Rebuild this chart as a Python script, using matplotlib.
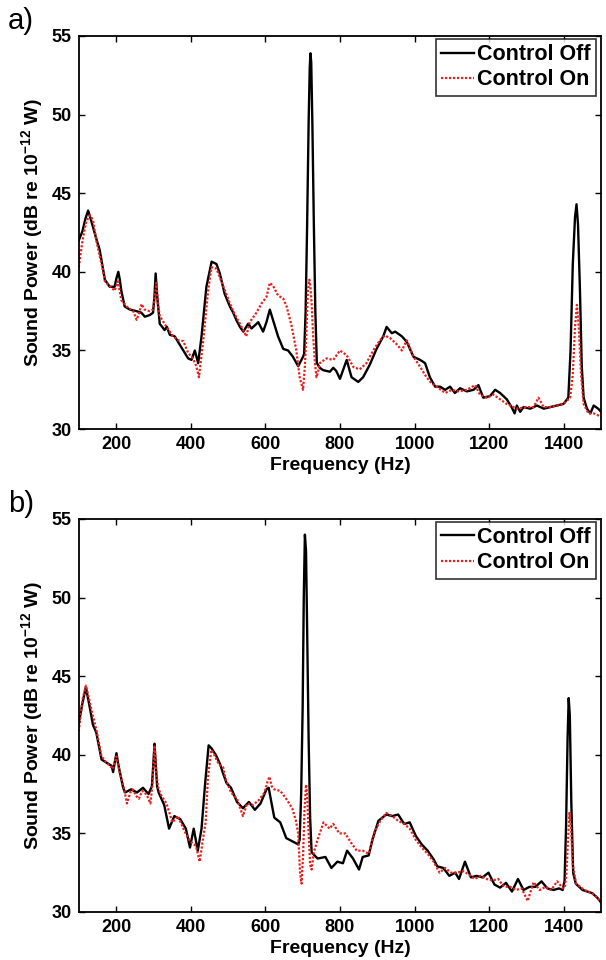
import numpy as np
import matplotlib
matplotlib.use("Agg")
import matplotlib.pyplot as plt

plt.rcParams['font.family'] = ['Liberation Sans', 'DejaVu Sans']
plt.rcParams['font.weight'] = 'bold'
plt.rcParams['mathtext.fontset'] = 'custom'
plt.rcParams['mathtext.rm'] = 'Liberation Sans:bold'
plt.rcParams['mathtext.bf'] = 'Liberation Sans:bold'
plt.rcParams['mathtext.default'] = 'bf'

# panel a) control off
fa_off = [100, 110, 118, 125, 134, 147, 156, 170, 183, 196, 201, 206, 210, 214, 223, 237, 255, 268, 277,
          290, 299, 303, 306, 310, 317, 330, 336, 344, 357, 380, 393, 402, 411, 420, 429, 442, 456, 469,
          478, 491, 505, 514, 523, 532, 541, 554, 563, 581, 594, 603, 612, 621, 634, 648, 661, 674, 688,
          701, 704, 708, 712, 716, 719, 721, 723, 726, 730, 734, 738, 746, 755, 764, 773, 782, 790, 800,
          809, 818, 831, 849, 862, 880, 898, 916, 925, 939, 948, 966, 979, 997, 1015, 1028, 1041, 1055,
          1068, 1082, 1095, 1108, 1122, 1140, 1158, 1171, 1184, 1202, 1216, 1229, 1247, 1260, 1268, 1274,
          1283, 1292, 1310, 1328, 1346, 1363, 1381, 1399, 1412, 1418, 1424, 1430, 1434, 1438, 1443, 1448,
          1453, 1462, 1471, 1480, 1492, 1500]
pa_off = [42.0, 42.6, 43.4, 43.9, 43.2, 42.1, 41.4, 39.5, 39.05, 39.05, 39.6, 40.0, 39.5, 38.8, 37.8, 37.6,
          37.5, 37.4, 37.15, 37.25, 37.4, 38.5, 39.9, 38.5, 36.7, 36.3, 36.5, 36.0, 35.9, 35.0, 34.5, 34.4,
          35.0, 34.2, 35.9, 39.05, 40.65, 40.5, 39.9, 38.6, 37.8, 37.4, 36.9, 36.5, 36.2, 36.7, 36.4, 36.8,
          36.2, 36.8, 37.6, 36.9, 35.9, 35.1, 35.0, 34.6, 34.0, 34.6, 34.8, 37.5, 43.0, 49.5, 53.0, 53.9,
          53.3, 49.5, 43.0, 37.5, 34.2, 33.9, 33.75, 33.7, 33.65, 33.9, 33.7, 33.2, 33.8, 34.4, 33.3, 33.0,
          33.3, 34.1, 35.1, 35.9, 36.5, 36.1, 36.2, 35.9, 35.55, 34.6, 34.4, 34.2, 33.3, 32.7, 32.7, 32.5,
          32.7, 32.3, 32.6, 32.4, 32.5, 32.8, 32.0, 32.1, 32.5, 32.3, 31.9, 31.4, 31.0, 31.5, 31.1, 31.4,
          31.3, 31.5, 31.3, 31.4, 31.5, 31.6, 32.0, 35.0, 40.5, 43.5, 44.3, 43.0, 39.0, 34.0, 32.0, 31.3,
          31.0, 31.5, 31.3, 31.1]

# panel a) control on
fa_on = [100, 110, 120, 130, 138, 147, 156, 165, 170, 183, 196, 205, 214, 228, 246, 255, 262, 268, 277,
         290, 299, 304, 308, 312, 317, 335, 353, 366, 380, 393, 406, 415, 422, 433, 447, 456, 469, 487,
         505, 518, 532, 549, 558, 576, 590, 603, 612, 621, 634, 648, 657, 670, 683, 692, 701, 706, 710,
         714, 718, 721, 724, 728, 733, 737, 741, 746, 764, 782, 800, 818, 836, 853, 871, 889, 907, 920,
         934, 952, 966, 979, 997, 1015, 1032, 1046, 1059, 1082, 1100, 1117, 1140, 1162, 1175, 1193, 1211,
         1229, 1247, 1274, 1301, 1319, 1332, 1346, 1363, 1381, 1399, 1417, 1424, 1430, 1435, 1440, 1446,
         1453, 1466, 1480, 1489, 1500]
pa_on = [40.3, 42.0, 43.2, 43.6, 43.3, 42.0, 41.0, 40.1, 39.4, 39.1, 38.8, 39.4, 38.2, 37.8, 37.5, 36.95,
         37.4, 37.95, 37.6, 37.5, 37.6, 38.5, 39.3, 38.0, 37.2, 36.5, 35.9, 35.65, 35.6, 34.85, 34.5, 34.0,
         33.3, 35.5, 38.9, 40.3, 40.2, 39.1, 38.0, 37.3, 36.7, 35.9, 36.8, 37.4, 38.0, 38.4, 39.3, 39.1,
         38.5, 38.3, 37.8, 36.6, 35.0, 33.3, 32.5, 34.0, 36.1, 38.8, 39.5, 39.0, 38.0, 36.0, 34.2, 33.3,
         33.6, 34.2, 34.5, 34.4, 35.0, 34.7, 33.95, 33.8, 34.2, 35.0, 35.65, 35.95, 35.8, 35.4, 35.0, 35.65,
         34.6, 33.95, 33.3, 32.9, 32.7, 32.3, 32.5, 32.4, 32.5, 32.8, 32.2, 32.0, 32.2, 31.9, 31.6, 31.3,
         31.4, 31.4, 32.0, 31.4, 31.4, 31.5, 31.6, 32.0, 33.5, 36.5, 37.9, 36.5, 33.5, 31.6, 31.0, 31.0,
         30.9, 30.8]

# panel b) control off
fb_off = [100, 110, 119, 128, 138, 147, 161, 174, 188, 192, 197, 201, 205, 210, 219, 224, 240, 256, 272,
          287, 296, 300, 303, 306, 310, 314, 329, 342, 356, 372, 387, 398, 408, 419, 429, 438, 448, 456,
          467, 478, 487, 496, 508, 524, 540, 556, 572, 587, 603, 609, 616, 624, 640, 656, 672, 688, 692,
          696, 700, 703, 706, 709, 712, 716, 720, 724, 740, 761, 777, 793, 808, 819, 835, 851, 861, 877,
          887, 903, 924, 940, 956, 972, 987, 1003, 1019, 1035, 1051, 1061, 1077, 1093, 1109, 1119, 1135,
          1151, 1166, 1182, 1198, 1214, 1229, 1245, 1261, 1277, 1292, 1308, 1324, 1340, 1356, 1372, 1387,
          1397, 1402, 1406, 1410, 1413, 1416, 1420, 1425, 1432, 1450, 1476, 1490, 1500]
pb_off = [42.0, 43.3, 44.3, 43.2, 41.9, 41.4, 39.7, 39.5, 39.3, 38.9, 39.6, 40.1, 39.5, 38.9, 37.9, 37.6,
          37.8, 37.6, 37.9, 37.5, 38.0, 39.5, 40.7, 39.5, 38.0, 37.6, 36.8, 35.3, 36.1, 35.9, 35.3, 34.1,
          35.3, 33.9, 35.3, 38.0, 40.6, 40.4, 40.0, 39.45, 38.8, 38.2, 37.9, 37.0, 36.6, 37.0, 36.5, 36.9,
          37.8, 37.9, 37.0, 36.0, 35.7, 34.7, 34.5, 34.3, 34.6, 37.5, 43.0, 50.0, 54.0, 53.0, 48.0, 41.0,
          36.0, 33.8, 33.4, 33.5, 32.8, 33.2, 33.1, 33.9, 33.4, 32.7, 33.5, 33.6, 34.6, 35.8, 36.2, 36.1,
          36.2, 35.6, 35.7, 34.85, 34.3, 33.9, 33.35, 32.9, 32.8, 32.3, 32.5, 32.1, 33.2, 32.2, 32.3, 32.2,
          32.5, 31.75, 31.55, 31.85, 31.3, 32.1, 31.4, 31.6, 31.6, 31.95, 31.5, 31.4, 31.5, 31.4, 32.0,
          35.5, 41.0, 43.6, 42.5, 37.0, 32.5, 31.8, 31.4, 31.2, 30.9, 30.6]

# panel b) control on
fb_on = [100, 110, 119, 128, 134, 147, 161, 174, 183, 192, 201, 205, 210, 220, 229, 238, 245, 253, 261,
         270, 277, 285, 292, 297, 303, 307, 312, 319, 335, 351, 366, 382, 398, 414, 424, 432, 440, 446,
         455, 463, 475, 487, 493, 508, 524, 540, 551, 566, 582, 598, 606, 611, 617, 624, 640, 656, 672,
         682, 688, 693, 697, 701, 705, 709, 712, 716, 720, 724, 730, 740, 756, 772, 782, 798, 814, 830,
         845, 861, 877, 893, 908, 924, 940, 956, 972, 987, 1003, 1019, 1035, 1051, 1067, 1082, 1098, 1114,
         1130, 1145, 1161, 1177, 1193, 1208, 1224, 1240, 1256, 1272, 1287, 1303, 1319, 1335, 1351, 1366,
         1382, 1398, 1403, 1407, 1411, 1415, 1419, 1424, 1433, 1455, 1476, 1490, 1500]
pb_on = [41.5, 43.5, 44.4, 43.5, 42.85, 41.6, 39.9, 39.5, 39.3, 39.1, 39.9, 39.4, 38.85, 38.0, 36.9, 37.6,
         37.8, 37.4, 37.2, 37.7, 37.6, 37.3, 36.9, 38.0, 40.6, 39.0, 38.0, 37.5, 36.9, 35.7, 36.1, 35.2,
         34.5, 34.2, 33.2, 34.5, 35.7, 38.5, 40.3, 40.0, 39.4, 39.2, 38.5, 37.6, 37.2, 36.1, 36.9, 36.8,
         37.1, 37.6, 38.3, 38.6, 38.0, 37.8, 37.7, 37.2, 36.6, 35.8, 35.0, 32.5, 31.8, 33.5, 36.5, 38.1,
         37.5, 35.0, 33.0, 32.7, 33.8, 34.6, 35.7, 35.3, 35.6, 35.0, 35.0, 34.4, 33.9, 33.9, 33.7, 35.1,
         35.8, 36.3, 36.1, 35.8, 35.6, 35.3, 34.6, 34.1, 33.7, 33.2, 32.5, 32.8, 32.5, 32.5, 32.6, 32.4,
         32.1, 32.3, 32.1, 32.0, 32.1, 31.6, 31.6, 31.4, 31.5, 30.7, 31.9, 31.4, 31.6, 31.4, 31.95, 31.5,
         31.6, 32.5, 34.5, 36.3, 35.5, 33.0, 31.8, 31.4, 31.2, 30.9, 30.6]

xticks = [200, 400, 600, 800, 1000, 1200, 1400]
yticks = [30, 35, 40, 45, 50, 55]

fig = plt.figure(figsize=(6.06, 9.6), dpi=100)
ax_a = fig.add_axes([0.130, 0.553, 0.862, 0.4095])
ax_b = fig.add_axes([0.130, 0.050, 0.862, 0.4095])

panels = [(ax_a, fa_off, pa_off, fa_on, pa_on, 'a)', 0.978),
          (ax_b, fb_off, pb_off, fb_on, pb_on, 'b)', 0.475)]

for ax, f1, p1, f2, p2, lab, ty in panels:
    ax.plot(f1, p1, color='black', lw=1.7, label='Control Off')
    ax.plot(f2, p2, color='#e8201c', lw=1.6, ls=(0, (1, 0.8)), label='Control On')
    ax.set_xlim(100, 1500)
    ax.set_ylim(30, 55)
    ax.set_xticks(xticks)
    ax.set_yticks(yticks)
    ax.tick_params(direction='in', top=True, right=True, length=4, width=1,
                   labelsize=13, pad=5)
    for lbl in ax.get_xticklabels() + ax.get_yticklabels():
        lbl.set_fontweight('bold')
    for s in ax.spines.values():
        s.set_linewidth(1.3)
    ax.set_xlabel('Frequency (Hz)', fontsize=14, fontweight='bold', labelpad=3)
    ax.set_ylabel('Sound Power (dB re 10$^{-12}$ W)', fontsize=14, fontweight='bold', labelpad=5)
    leg = ax.legend(loc='upper right', bbox_to_anchor=(0.99, 0.993),
                    prop={'weight': 'bold', 'size': 15.5}, frameon=True, fancybox=False,
                    handlelength=1.5, handletextpad=0.15, borderpad=0.25, labelspacing=0.2,
                    borderaxespad=0)
    leg.get_frame().set_edgecolor('black')
    leg.get_frame().set_linewidth(1.2)
    fig.text(0.013, ty, lab, fontsize=21, fontweight='normal', ha='left', va='center')

fig.savefig('out.png', dpi=100)
